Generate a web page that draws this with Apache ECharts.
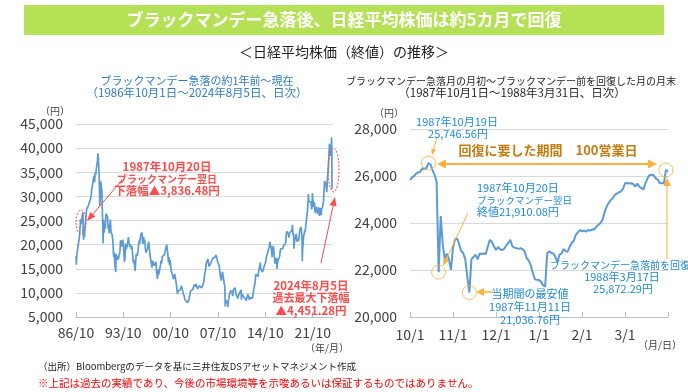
<!DOCTYPE html>
<html><head><meta charset="utf-8">
<script src="https://cdn.jsdelivr.net/npm/echarts@6/dist/echarts.min.js"></script>
<style>html,body{margin:0;padding:0;background:#fff}#c{width:688px;height:392px}</style>
</head><body><div id="c"></div>
<script>
// ---------- DATA ----------
// Left chart: Nikkei 225 month-end closes starting Oct 1986 (yen)
const leftStartYear = 1986, leftStartMonth = 10;
const leftMonthly = [
  16910,18330,18701,
  20020,20770,21570,23270,25260,24180,24490,26030,26010,22770,22690,21564,
  23720,24900,26260,27430,27420,27770,28100,27920,27920,28180,29580,30159,
  31580,31990,32840,33710,34270,32950,34950,34430,35640,35550,37270,38916,
  37190,34590,29980,29590,33130,31940,31040,25980,20984,25190,22450,23849,
  23290,26410,26290,26110,25790,23290,24120,22340,23920,25220,22690,22984,
  22020,21340,19350,17390,18350,15950,15910,18060,17400,16770,17680,16925,
  17020,16950,18590,20920,20550,19590,20380,21030,20110,19700,16410,17417,
  20230,19110,19110,19730,20620,21550,20450,20630,19560,19990,19080,19723,
  18650,17050,16140,16810,15440,14520,16680,18120,17910,17650,18740,19868,
  20810,20130,21410,22040,21960,22530,20690,20170,21560,20470,21020,19361,
  18330,18560,18000,19150,20070,20600,20330,18230,17890,16460,16630,15259,
  16630,16830,16530,15640,15670,15830,16380,14110,13410,13560,14880,13842,
  14500,14370,15840,16700,16110,17530,17860,17440,17600,17940,18560,18934,
  19540,19960,20340,17970,16330,17410,15730,16860,15750,14540,14650,13786,
  13840,12880,13000,13930,13260,12970,11860,10710,9770,10370,10700,10543,
  9990,10590,11030,11490,11760,10620,9880,9620,9380,8640,8810,8579,
  8340,8360,7970,7830,8420,9080,9560,10340,10220,10560,10100,10677,
  10780,11040,11720,11760,11240,11860,11330,11080,10820,10770,10900,11489,
  11390,11740,11670,11010,11280,11580,11900,12410,13570,13610,14870,16111,
  16650,16210,17060,16910,15470,15510,15460,16140,16130,16400,16270,17226,
  17380,17600,17290,17400,17880,18140,17250,16570,16790,16740,15680,15308,
  13590,13600,12530,13850,14340,13480,13380,13070,11260,8580,8510,8860,
  7990,7570,8110,8830,9520,9960,10360,10490,10130,10030,9350,10546,
  10200,10130,11090,11060,9770,9380,9540,8820,9370,9200,9940,10229,
  10240,10620,9760,9850,9690,9820,9830,8960,8700,8990,8430,8455,
  8800,9720,10080,9520,8540,9010,8700,8840,8870,8930,9450,10395,
  11140,11560,12400,13860,13770,13680,13670,13390,14460,14330,15660,16291,
  14910,14840,14830,14300,14630,15160,15620,15420,16170,16410,17460,17451,
  17670,18800,19210,19520,20560,20240,20590,18890,17390,19080,19750,19034,
  17520,16030,16760,16670,17230,15580,16570,16890,16450,17430,18310,19114,
  19040,19120,18910,19200,19650,20030,19930,19650,20360,22010,22720,22765,
  23100,22070,21450,22470,22200,22300,22550,22870,24120,21920,22350,20015,
  20770,21390,21210,22260,20600,21280,21520,20700,21760,22930,23290,23657,
  23210,21140,18920,20190,21880,22290,21710,23140,23190,22980,26430,27444,
  27660,28970,29180,28810,28860,28790,27280,28090,29450,28890,27820,28792,
  27000,26530,27820,26850,27280,26390,27800,28090,25940,27590,28000,26095,
  27330,27450,28040,28860,30890,33190,33170,32620,31860,30860,33490,33464,
  36290,39170,40370,38410,38490,39580,39100
];
// Notable daily closes (date, yen)
const leftExtra = [
  ['1986-10-01',17600],['1986-10-21',15820],
  ['1987-10-14',26646],['1987-10-19',25746],['1987-10-20',21910],['1987-11-11',21037],
  ['1990-04-02',28002],['1990-10-01',20222],['1992-08-18',14309],['1995-07-03',14485],
  ['1998-10-09',12879],['2003-04-28',7607],['2008-10-27',7162],['2009-03-10',7055],
  ['2011-03-15',8605],['2016-06-24',14952],['2018-12-25',19155],['2020-03-19',16552],
  ['2021-02-16',30468],['2021-09-14',30670],['2024-03-22',40888],['2024-07-11',42224],
  ['2024-08-02',35910],['2024-08-05',31458]
];
const leftTickLabels = ['86/10','93/10','00/10','07/10','14/10','21/10'];

// Right chart: daily closes, Oct 1 1987 onward (trading days)
const rightDaily = [
  25830,25930,26000,26100,26150,26180,26330,26300,26340,26550,
  26500,26250,26050,25750,21910,24300,23100,22450,22700,22450,
  22000,22950,23300,23350,23100,22800,22720,22450,21700,21040,
  22450,22560,22650,22450,22700,22680,22700,22680,23000,23280,
  23200,23000,22850,22980,22880,22850,22900,23050,23150,23280,
  23000,22950,22930,22900,22930,22880,22800,22500,22400,22200,
  21860,21600,21580,21570,21500,21350,21290,22710,22800,22720,
  22700,22550,22350,22650,22700,22900,22800,22780,23000,23150,
  23250,23500,23600,23700,23650,23680,23630,23700,23680,23730,
  23720,23840,23920,24000,24130,24450,24690,24850,24980,25050,
  25190,25250,25300,25340,25450,25690,25700,25680,25690,25660,
  25550,25680,25550,25480,25430,25700,25900,26040,26050,26030,
  25900,25850,25690,25690,25700,26260,26180
];
const rightTickLabels = ['10/1','11/1','12/1','1/1','2/1','3/1',''];
const rightMarkIdx = [9,14,29,125];

// ---------- BUILD ----------
const FONT = "'Noto Sans CJK JP','Noto Sans',sans-serif";
function monthIndex(s){
  const p = s.split('-').map(Number);
  return (p[0]-leftStartYear)*12 + (p[1]-leftStartMonth) + (p[2]-1)/31;
}
const leftData = leftMonthly.map((v,i)=>[i+1,v])
  .concat(leftExtra.map(d=>[monthIndex(d[0]),d[1]]))
  .sort((a,b)=>a[0]-b[0]);
const rightData = rightDaily.map((v,i)=>[i,v]);
const rightMarks = rightMarkIdx.map(i=>[i,rightDaily[i]]);

const fmtNum = v => v.toLocaleString('en-US');
const RED = '#FF4B4B', ORANGE = '#F8B13C', BLUE = '#1F8AD6', LINE = '#5B9BD5';

function txt(x,y,text,opt){
  opt = opt||{};
  return {type:'text', x:x, y:y, z:50, style:{
    text:text, fill:opt.color||'#262626',
    font:(opt.weight||'normal')+' '+(opt.size||11)+'px '+FONT,
    align:opt.align||'center', textAlign:opt.align||'center',
    verticalAlign:'middle', textVerticalAlign:'middle'
  }};
}
function arrowHead(xt,yt,ang,hl,hw,color){
  const c=Math.cos(ang), s=Math.sin(ang);
  const bx=xt-hl*c, by=yt-hl*s;
  return {type:'polygon', z:40, shape:{points:[[xt,yt],[bx-hw/2*s,by+hw/2*c],[bx+hw/2*s,by-hw/2*c]]}, style:{fill:color}};
}
function arrow(x1,y1,x2,y2,color,w,hl,hw,both){
  const ang=Math.atan2(y2-y1,x2-x1);
  const c=Math.cos(ang), s=Math.sin(ang);
  const els=[];
  const sx = both ? x1+hl*c*0.8 : x1, sy = both ? y1+hl*s*0.8 : y1;
  els.push({type:'line', z:40, shape:{x1:sx,y1:sy,x2:x2-hl*c*0.8,y2:y2-hl*s*0.8}, style:{stroke:color,lineWidth:w}});
  els.push(arrowHead(x2,y2,ang,hl,hw,color));
  if(both) els.push(arrowHead(x1,y1,ang+Math.PI,hl,hw,color));
  return els;
}

const graphics = [
  {type:'rect', shape:{x:24,y:5,width:640,height:30}, style:{fill:'#B5E157'}},
  txt(344,20,'ブラックマンデー急落後、日経平均株価は約5カ月で回復',{color:'#fff',size:17,weight:'bold'}),
  txt(344,52,'＜日経平均株価（終値）の推移＞',{color:'#222',size:14}),
  txt(197,81,'ブラックマンデー急落の約1年前～現在',{color:'#2E7BC4',size:11}),
  txt(197,93,'（1986年10月1日～2024年8月5日、日次）',{color:'#2E7BC4',size:11.5}),
  txt(511,81,'ブラックマンデー急落月の月初～ブラックマンデー前を回復した月の月末',{color:'#262626',size:10}),
  txt(512,93,'（1987年10月1日～1988年3月31日、日次）',{color:'#262626',size:11.5}),
  txt(55,111,'（円）',{color:'#404040',size:10}),
  txt(389,113,'（円）',{color:'#404040',size:10}),
  txt(327,348,'（年/月）',{color:'#404040',size:10}),
  txt(660,345,'（月/日）',{color:'#404040',size:10}),
  txt(38,366,'（出所）Bloombergのデータを基に三井住友DSアセットマネジメント作成',{color:'#222',size:9.5,align:'left'}),
  txt(38,383,'※上記は過去の実績であり、今後の市場環境等を示唆あるいは保証するものではありません。',{color:'#FF0000',size:10.5,align:'left'}),
  // left red annotations
  txt(167,167,'1987年10月20日',{color:RED,size:11.5,weight:'bold'}),
  txt(167,179,'ブラックマンデー翌日',{color:RED,size:10,weight:'bold'}),
  txt(167,191,'下落幅▲3,836.48円',{color:RED,size:11.5,weight:'bold'}),
  txt(311,286,'2024年8月5日',{color:RED,size:11.5,weight:'bold'}),
  txt(311,298,'過去最大下落幅',{color:RED,size:11,weight:'bold'}),
  txt(311,311,'▲4,451.28円',{color:RED,size:11.5,weight:'bold'}),
  {type:'ellipse', z:40, shape:{cx:81,cy:222,rx:5,ry:12}, style:{fill:'none',stroke:RED,lineWidth:1,lineDash:[2,1.5]}},
  {type:'ellipse', z:40, shape:{cx:333.5,cy:170,rx:5.5,ry:22}, style:{fill:'none',stroke:RED,lineWidth:1,lineDash:[2,1.5]}},
  ...arrow(122,180,87,221,RED,1,9,7),
  ...arrow(321,263,335,197,RED,1,9,7),
  // right blue annotations
  txt(457,122,'1987年10月19日',{color:BLUE,size:11}),
  txt(458,134,'25,746.56円',{color:BLUE,size:11}),
  txt(477,188,'1987年10月20日',{color:BLUE,size:11,align:'left'}),
  txt(477,200,'ブラックマンデー翌日',{color:BLUE,size:9.5,align:'left'}),
  txt(477,212,'終値21,910.08円',{color:BLUE,size:11,align:'left'}),
  txt(548,150,'回復に要した期間　100営業日',{color:'#C47C0E',size:13,weight:'bold'}),
  txt(530,294,'当期間の最安値',{color:BLUE,size:11}),
  txt(530,307,'1987年11月11日',{color:BLUE,size:11}),
  txt(530,320,'21,036.76円',{color:BLUE,size:11}),
  txt(620,265,'ブラックマンデー急落前を回復',{color:BLUE,size:10}),
  txt(622,277,'1988年3月17日',{color:BLUE,size:11}),
  txt(623,289,'25,872.29円',{color:BLUE,size:11}),
  ...arrow(437,137,432,155,ORANGE,1,6,5),
  ...arrow(437,164,657,164,ORANGE,2,9,9,true),
  ...arrow(468,213,443,266,ORANGE,1,8,6),
  ...arrow(493,292,476,292,ORANGE,1.5,8,8),
  ...arrow(667,259,667,178,ORANGE,1,8,8)
];

const axisLabelStyle = {color:'#404040', fontSize:14, fontFamily:FONT};
const option = {
  animation:false,
  backgroundColor:'#fff',
  grid:[
    {left:76, right:355, top:124, bottom:75},
    {left:410, right:20, top:129, bottom:75}
  ],
  xAxis:[
    {gridIndex:0, type:'value', min:0, max:456, interval:84,
     axisLine:{lineStyle:{color:'#BFBFBF'}}, axisTick:{inside:true,length:5,lineStyle:{color:'#BFBFBF'}},
     splitLine:{show:false},
     axisLabel:Object.assign({margin:9, showMaxLabel:false, formatter:v=>(v%84===0 && v/84<leftTickLabels.length)?leftTickLabels[v/84]:''},axisLabelStyle)},
    {gridIndex:1, type:'value', min:0, max:126, interval:21,
     axisLine:{lineStyle:{color:'#BFBFBF'}}, axisTick:{inside:true,length:5,lineStyle:{color:'#BFBFBF'}},
     splitLine:{show:false},
     axisLabel:Object.assign({margin:11, formatter:v=>rightTickLabels[Math.round(v/21)]||''},axisLabelStyle)}
  ],
  yAxis:[
    {gridIndex:0, type:'value', min:5000, max:45000, interval:5000,
     axisLine:{show:false}, axisTick:{show:false},
     splitLine:{lineStyle:{color:'#D9D9D9'}},
     axisLabel:Object.assign({margin:13, formatter:fmtNum},axisLabelStyle)},
    {gridIndex:1, type:'value', min:20000, max:28000, interval:2000,
     axisLine:{show:false}, axisTick:{show:false},
     splitLine:{lineStyle:{color:'#D9D9D9'}},
     axisLabel:Object.assign({margin:13, formatter:fmtNum},axisLabelStyle)}
  ],
  series:[
    {type:'line', xAxisIndex:0, yAxisIndex:0, data:leftData, showSymbol:false,
     lineStyle:{color:LINE,width:1.7}, itemStyle:{color:LINE}},
    {type:'line', xAxisIndex:1, yAxisIndex:1, data:rightData, showSymbol:false,
     lineStyle:{color:LINE,width:2}, itemStyle:{color:LINE}},
    {type:'scatter', xAxisIndex:1, yAxisIndex:1, data:rightMarks, symbolSize:14, z:5,
     itemStyle:{color:'rgba(255,255,255,0)', borderColor:ORANGE, borderWidth:1}}
  ],
  graphic:graphics
};
const chart = echarts.init(document.getElementById('c'), null, {renderer:'canvas'});
chart.setOption(option);
</script></body></html>
